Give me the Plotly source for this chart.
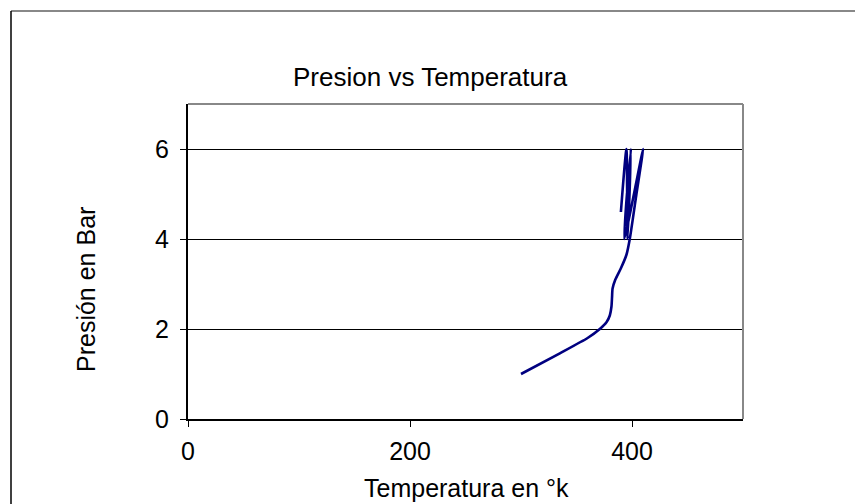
import plotly.graph_objects as go

# Data
temperatura = [300, 335, 360, 371, 377, 380, 381.5, 382, 382.5, 385, 390, 395, 398, 404, 410, 393, 399, 396, 395, 390]
presion = [1.0, 1.46, 1.8, 2.0, 2.15, 2.3, 2.5, 2.7, 2.9, 3.1, 3.35, 3.65, 4.0, 5.0, 6.0, 4.0, 6.0, 4.0, 6.0, 4.6]

x_ticks = [0, 200, 400]
y_ticks = [0, 2, 4, 6]

FONT = "Liberation Sans, Arial, sans-serif"
W, H = 855, 504
L, R, T, B = 188, 743, 104, 419

def px(X):
    return (X - L) / (R - L)

def py(Y):
    return (B - Y) / (B - T)

fig = go.Figure()
fig.add_trace(go.Scatter(
    x=temperatura, y=presion, mode="lines",
    line=dict(color="#000080", width=2.6, shape="spline", smoothing=0.6),
    showlegend=False, hoverinfo="skip",
))

fig.update_layout(
    width=W, height=H,
    margin=dict(l=L, r=W - R, t=T, b=H - B, pad=0),
    paper_bgcolor="white", plot_bgcolor="white",
    font=dict(family=FONT, size=25, color="black"),
    showlegend=False,
)
fig.update_xaxes(
    range=[0, 500], tickvals=x_ticks, ticks="outside", ticklen=6, tickcolor="black",
    tickwidth=1, showgrid=False, zeroline=False, showline=True, linecolor="black",
    linewidth=2, mirror=False, ticklabelstandoff=3,
    tickfont=dict(family=FONT, size=25, color="black"),
)
fig.update_yaxes(
    range=[0, 7], tickvals=y_ticks, ticks="outside", ticklen=6, tickcolor="black",
    tickwidth=1, showgrid=True, gridcolor="black", gridwidth=1, zeroline=False,
    showline=True, linecolor="black", linewidth=2, ticklabelstandoff=6,
    tickfont=dict(family=FONT, size=25, color="black"),
)

# plot-area gray border (top and right)
fig.add_shape(type="line", xref="paper", yref="paper", x0=0, x1=1, y0=1, y1=1,
              line=dict(color="#888888", width=2))
fig.add_shape(type="line", xref="paper", yref="paper", x0=1, x1=1, y0=0, y1=1,
              line=dict(color="#888888", width=2))
# outer chart border
fig.add_shape(type="line", xref="paper", yref="paper", x0=px(11), x1=px(870), y0=py(11), y1=py(11),
              line=dict(color="#888888", width=2))
fig.add_shape(type="line", xref="paper", yref="paper", x0=px(11), x1=px(11), y0=py(11), y1=py(520),
              line=dict(color="black", width=1.5))

fig.add_annotation(text="Presion vs Temperatura", xref="paper", yref="paper",
                   x=px(430), y=py(77), showarrow=False, xanchor="center", yanchor="middle",
                   font=dict(family=FONT, size=26, color="black"))
fig.add_annotation(text="Temperatura en °k", xref="paper", yref="paper",
                   x=px(466), y=py(488), showarrow=False, xanchor="center", yanchor="middle",
                   font=dict(family=FONT, size=25, color="black"))
fig.add_annotation(text="Presión en Bar", xref="paper", yref="paper",
                   x=px(86), y=py(290), showarrow=False, xanchor="center", yanchor="middle",
                   textangle=-90, font=dict(family=FONT, size=25, color="black"))

fig.write_html("out.html")
